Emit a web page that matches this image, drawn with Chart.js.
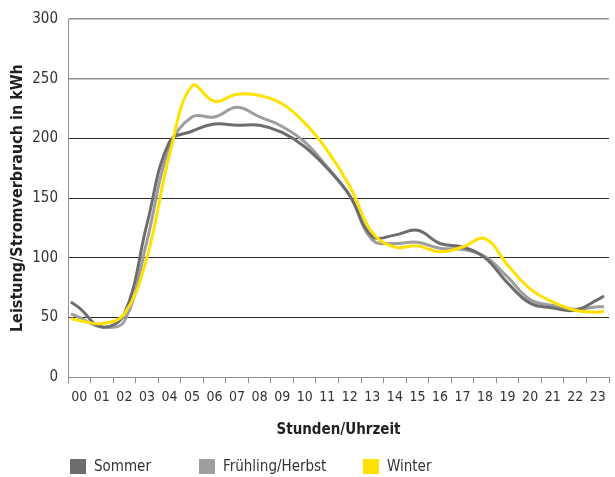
<!DOCTYPE html>
<html>
<head>
<meta charset="utf-8">
<script src="https://cdn.jsdelivr.net/npm/chart.js@4.4.1/dist/chart.umd.min.js"></script>
<style>
  body { margin: 0; background: #fff; }
  #wrap { width: 615px; height: 477px; }
</style>
</head>
<body>
<div id="wrap"><canvas id="chart"></canvas></div>
<script>
// hour labels on the x axis
const hourLabels = ["00", "01", "02", "03", "04", "05", "06", "07", "08", "09", "10", "11",
  "12", "13", "14", "15", "16", "17", "18", "19", "20", "21", "22", "23"];

// x positions (hours) of the read values: left edge, middle of each hour, right edge
const xPos = [0.13, 0.5, 1.5, 2.5, 3.5, 4.5, 5.5, 6.5, 7.5, 8.5, 9.5, 10.5, 11.5,
  12.5, 13.5, 14.5, 15.5, 16.5, 17.5, 18.5, 19.5, 20.5, 21.5, 22.5, 23.5, 23.78];

const sommer = [63, 58, 42, 53, 128, 197, 206, 212, 211, 211, 205, 193, 175,
  152, 118, 119, 123, 112, 109, 100, 79, 62, 58, 56, 65, 68];
const fruehling = [53, 50, 42, 47, 114, 193, 218, 218, 226, 218, 210, 197, 176,
  152, 115, 112, 113, 108, 107, 101, 84, 65, 60, 57, 59, 59];
const winter = [49, 47.5, 45, 53, 100, 186, 244, 231, 237, 236, 229, 213, 190,
  160, 121, 109, 110, 105, 109, 116, 94, 74, 63, 56, 54.5, 55];

const seriesNames = ["Sommer", "Frühling/Herbst", "Winter"];
const yTicks = [0, 50, 100, 150, 200, 250, 300];

const FONT = "'Liberation Sans Narrow', 'DejaVu Sans Condensed', 'Arial Narrow', sans-serif";

function toPoints(values) {
  return xPos.map((x, i) => ({ x: x, y: values[i] }));
}

// legend drawn under the axis title, boxes at fixed columns like the original
const legendColumns = [70, 199, 363];
const bottomLegend = {
  id: "bottomLegend",
  afterDraw(chart) {
    const ctx = chart.ctx;
    ctx.save();
    ctx.font = "15px " + FONT;
    ctx.textBaseline = "middle";
    chart.data.datasets.forEach((ds, i) => {
      const x = legendColumns[i];
      ctx.fillStyle = ds.borderColor;
      ctx.fillRect(x, 459, 16, 15);
      ctx.fillStyle = "#333";
      ctx.fillText(ds.label, x + 24, 467);
    });
    ctx.restore();
  }
};

new Chart(document.getElementById("chart"), {
  type: "line",
  data: {
    datasets: [
      {
        label: seriesNames[0],
        data: toPoints(sommer),
        borderColor: "#6d6d6f",
        order: 1
      },
      {
        label: seriesNames[1],
        data: toPoints(fruehling),
        borderColor: "#9e9ea0",
        order: 2
      },
      {
        label: seriesNames[2],
        data: toPoints(winter),
        borderColor: "#ffe100",
        order: 0
      }
    ]
  },
  options: {
    responsive: true,
    maintainAspectRatio: false,
    animation: false,
    layout: { padding: { top: 19, right: 4, left: 4, bottom: 38 } },
    elements: {
      line: { borderWidth: 3, tension: 0.4, fill: false },
      point: { radius: 0 }
    },
    plugins: {
      legend: { display: false },
      tooltip: { enabled: false }
    },
    scales: {
      x: {
        type: "linear",
        min: 0,
        max: 24,
        ticks: {
          stepSize: 1,
          autoSkip: false,
          maxRotation: 0,
          labelOffset: 11.3,
          padding: 6,
          color: "#333",
          font: { family: FONT, size: 14 },
          callback: (value) => hourLabels[value] || ""
        },
        grid: {
          drawOnChartArea: false,
          drawTicks: true,
          tickLength: 6,
          color: "#8f8f8f"
        },
        border: { display: true, color: "#8f8f8f" },
        title: {
          display: true,
          text: "Stunden/Uhrzeit",
          color: "#231f20",
          font: { family: FONT, size: 15, weight: "bold" },
          padding: { top: 9, bottom: 0 }
        }
      },
      y: {
        min: 0,
        max: 300,
        afterBuildTicks: (scale) => {
          scale.ticks = yTicks.map(v => ({ value: v }));
        },
        afterFit: (scale) => {
          scale.width = 64;
        },
        ticks: {
          padding: 10,
          color: "#333",
          font: { family: FONT, size: 15 }
        },
        grid: {
          drawTicks: false,
          color: (c) => {
            const v = c.tick ? c.tick.value : 0;
            if (v === 0 || v >= 250) return "#8f8f8f";
            return "#2b2b2b";
          },
          lineWidth: (c) => {
            const v = c.tick ? c.tick.value : 0;
            return v >= 250 ? 1.5 : 1;
          }
        },
        border: { display: true, color: "#8f8f8f" },
        title: {
          display: true,
          text: "Leistung/Stromverbrauch in kWh",
          color: "#231f20",
          font: { family: FONT, size: 16, weight: "bold" },
          padding: { top: 4, bottom: 0 }
        }
      }
    }
  },
  plugins: [bottomLegend]
});
</script>
</body>
</html>
